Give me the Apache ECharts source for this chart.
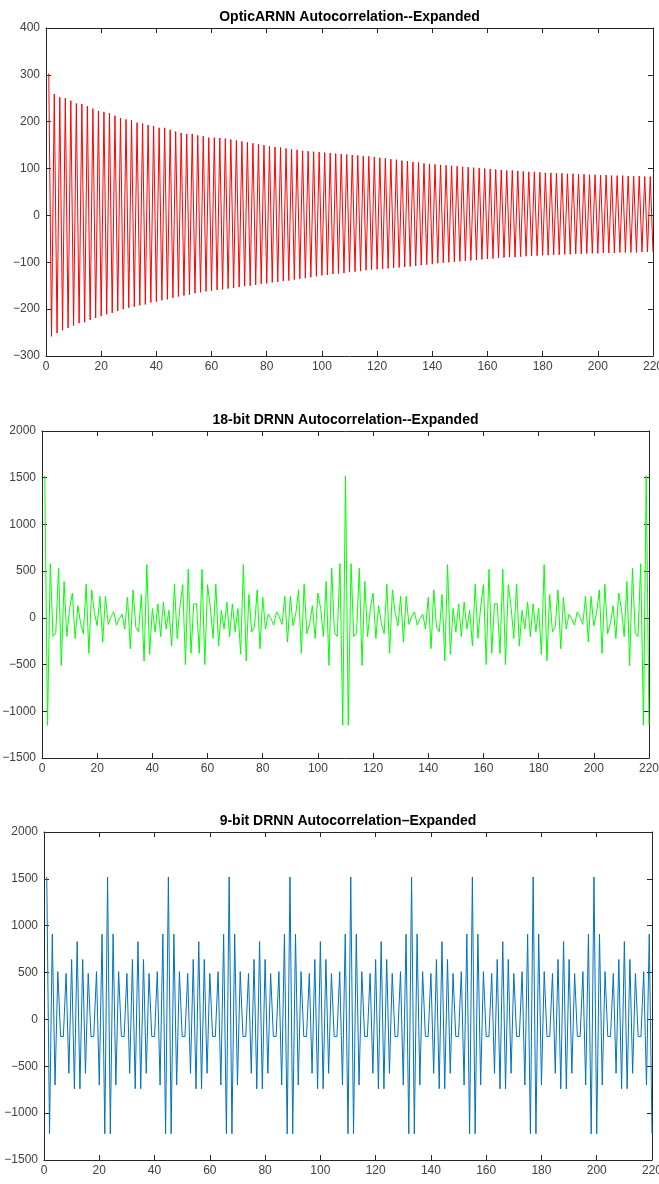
<!DOCTYPE html>
<html>
<head>
<meta charset="utf-8">
<script src="https://cdn.jsdelivr.net/npm/echarts@6/dist/echarts.min.js"></script>
<style>
html,body{margin:0;padding:0;background:#fff}
#main{width:659px;height:1184px}
</style>
</head>
<body>
<div id="main"></div>
<script>
// OpticARNN: values at odd lags (peaks) and even lags (troughs)
var opticPeaks = [303,259,252,250,245,239,238,233,228,223,221,218,213,208,205,203,198,196,193,191,
  187,187,183,179,176,174,174,171,169,166,166,165,164,162,160,158,156,154,152,150,
  148,146,145,143,141,140,138,137,136,135,134,133,132,131,130,129,128,127,126,125,
  123,122,120,119,117,116,114,113,111,110,109,108,107,106,105,104,103,102,101,100,
  99,98,97,96,96,95,94,93,93,92,91,91,90,90,89,89,88,88,87,87,
  86,86,85,85,85,84,84,84,83,83];
var opticTroughs = [-258,-251,-245,-240,-235,-230,-228,-223,-219,-215,-211,-208,-204,-200,-197,-195,-192,-190,-186,-184,
  -181,-179,-176,-173,-171,-169,-166,-164,-162,-161,-159,-158,-156,-155,-153,-151,-150,-148,-146,-145,
  -143,-142,-140,-139,-137,-135,-134,-132,-130,-128,-127,-125,-124,-123,-121,-120,-119,-117,-116,-115,
  -114,-113,-112,-111,-110,-109,-108,-106,-105,-104,-102,-101,-100,-99,-98,-97,-96,-95,-94,-93,
  -92,-91,-90,-89,-89,-88,-87,-86,-86,-85,-85,-84,-84,-83,-83,-82,-82,-81,-81,-81,
  -80,-80,-80,-79,-79,-79,-79,-78,-78,-78];

// 18-bit DRNN, lags 1..220
var drnn18 = [
  1520,-1150,580,-200,-160,530,-510,390,-200,100,265,-220,130,-60,-170,360,-380,300,50,-85,
  230,-260,230,-70,10,65,-78,-10,40,-120,220,-330,300,-100,-150,250,-460,570,-390,100,
  -150,150,-200,170,-120,80,-300,360,-220,120,355,-500,520,-380,150,
  150,-380,520,-500,355,120,-220,360,-300,80,-120,170,-200,150,-150,100,-390,570,-460,250,
  -150,-100,300,-330,220,-120,40,-10,-78,65,10,-70,230,-260,230,-85,50,300,-380,360,
  -170,-60,130,-220,265,100,-200,390,-510,530,-160,-200,580,-1150,
  1520,-1150,580,-200,-160,530,-510,390,-200,100,265,-220,130,-60,-170,360,-380,300,50,-85,
  230,-260,230,-70,10,65,-78,-10,40,-120,220,-330,300,-100,-150,250,-460,570,-390,100,
  -150,150,-200,170,-120,80,-300,360,-220,120,355,-500,520,-380,150,
  150,-380,520,-500,355,120,-220,360,-300,80,-120,170,-200,150,-150,100,-390,570,-460,250,
  -150,-100,300,-330,220,-120,40,-10,-78,65,10,-70,230,-260,230,-85,50,300,-380,360,
  -170,-60,130,-220,265,100,-200,390,-510,530,-160,-200,580,-1150,
  1520,-1150];

// 9-bit DRNN, lags 1..220
var drnn9 = [
  1520,-1220,910,-700,510,-182,-182,490,-575,640,-740,830,-740,640,-575,490,-182,-182,510,-700,910,-1220,
  1520,-1220,910,-700,510,-182,-182,490,-575,640,-740,830,-740,640,-575,490,-182,-182,510,-700,910,-1220,
  1520,-1220,910,-700,510,-182,-182,490,-575,640,-740,830,-740,640,-575,490,-182,-182,510,-700,910,-1220,
  1520,-1220,910,-700,510,-182,-182,490,-575,640,-740,830,-740,640,-575,490,-182,-182,510,-700,910,-1220,
  1520,-1220,910,-700,510,-182,-182,490,-575,640,-740,830,-740,640,-575,490,-182,-182,510,-700,910,-1220,
  1520,-1220,910,-700,510,-182,-182,490,-575,640,-740,830,-740,640,-575,490,-182,-182,510,-700,910,-1220,
  1520,-1220,910,-700,510,-182,-182,490,-575,640,-740,830,-740,640,-575,490,-182,-182,510,-700,910,-1220,
  1520,-1220,910,-700,510,-182,-182,490,-575,640,-740,830,-740,640,-575,490,-182,-182,510,-700,910,-1220,
  1520,-1220,910,-700,510,-182,-182,490,-575,640,-740,830,-740,640,-575,490,-182,-182,510,-700,910,-1220,
  1520,-1220,910,-700,510,-182,-182,490,-575,640,-740,830,-740,640,-575,490,-182,-182,510,-700,910,-1220];

var titles = ['OpticARNN Autocorrelation--Expanded', '18-bit DRNN Autocorrelation--Expanded', '9-bit DRNN Autocorrelation\u2013Expanded'];
var yRanges = [[-300, 400, 100], [-1500, 2000, 500], [-1500, 2000, 500]];
var colors = ['#ff0000', '#00ff00', '#0072bd'];

var grids = [
  {left: 46, top: 28, width: 607, height: 328, containLabel: false, outerBoundsMode: 'none'},
  {left: 42, top: 431, width: 607, height: 327, containLabel: false, outerBoundsMode: 'none'},
  {left: 44, top: 832, width: 608, height: 328, containLabel: false, outerBoundsMode: 'none'}
];

var axisColor = '#262626';
var labelColor = '#404040';
var font = 'Liberation Sans';

function pairs(vals) {
  var out = [];
  for (var i = 0; i < vals.length; i++) out.push([i + 1, vals[i]]);
  return out;
}

var opticVals = [];
for (var i = 0; i < opticPeaks.length; i++) {
  opticVals.push(opticPeaks[i]);
  opticVals.push(opticTroughs[i]);
}
var seriesVals = [opticVals, drnn18, drnn9];

function plain(v) { return String(v).replace('-', '\u2212'); }

var xAxes = [], yAxes = [], series = [], graphics = [];
grids.forEach(function(g, gi) {
  [false, true].forEach(function(isTop) {
    xAxes.push({
      gridIndex: gi, type: 'value', min: 0, max: 220, interval: 20,
      position: isTop ? 'top' : 'bottom',
      axisLine: {show: true, onZero: false, lineStyle: {color: axisColor, width: 1}},
      axisTick: {show: true, inside: true, length: 5, lineStyle: {color: axisColor}},
      axisLabel: {show: !isTop, color: labelColor, fontSize: 12, fontFamily: font, margin: 5, formatter: plain},
      splitLine: {show: false}
    });
    yAxes.push({
      gridIndex: gi, type: 'value', min: yRanges[gi][0], max: yRanges[gi][1], interval: yRanges[gi][2],
      position: isTop ? 'right' : 'left',
      axisLine: {show: true, onZero: false, lineStyle: {color: axisColor, width: 1}},
      axisTick: {show: true, inside: true, length: 5, lineStyle: {color: axisColor}},
      axisLabel: {show: !isTop, color: labelColor, fontSize: 12, fontFamily: font, margin: 6, formatter: plain},
      splitLine: {show: false}
    });
  });
  series.push({
    type: 'line', xAxisIndex: gi * 2, yAxisIndex: gi * 2,
    data: pairs(seriesVals[gi]), showSymbol: false, symbol: 'none',
    lineStyle: {color: colors[gi], width: 1}, animation: false
  });
  graphics.push({
    type: 'text', x: g.left + g.width / 2, y: g.top - 11,
    style: {
      text: titles[gi], font: 'bold 14px "Liberation Sans"', fill: '#000',
      align: 'center', verticalAlign: 'middle', textAlign: 'center', textVerticalAlign: 'middle'
    }
  });
});

var chart = echarts.init(document.getElementById('main'));
chart.setOption({
  animation: false,
  grid: grids,
  xAxis: xAxes,
  yAxis: yAxes,
  series: series,
  graphic: graphics
});
</script>
</body>
</html>
